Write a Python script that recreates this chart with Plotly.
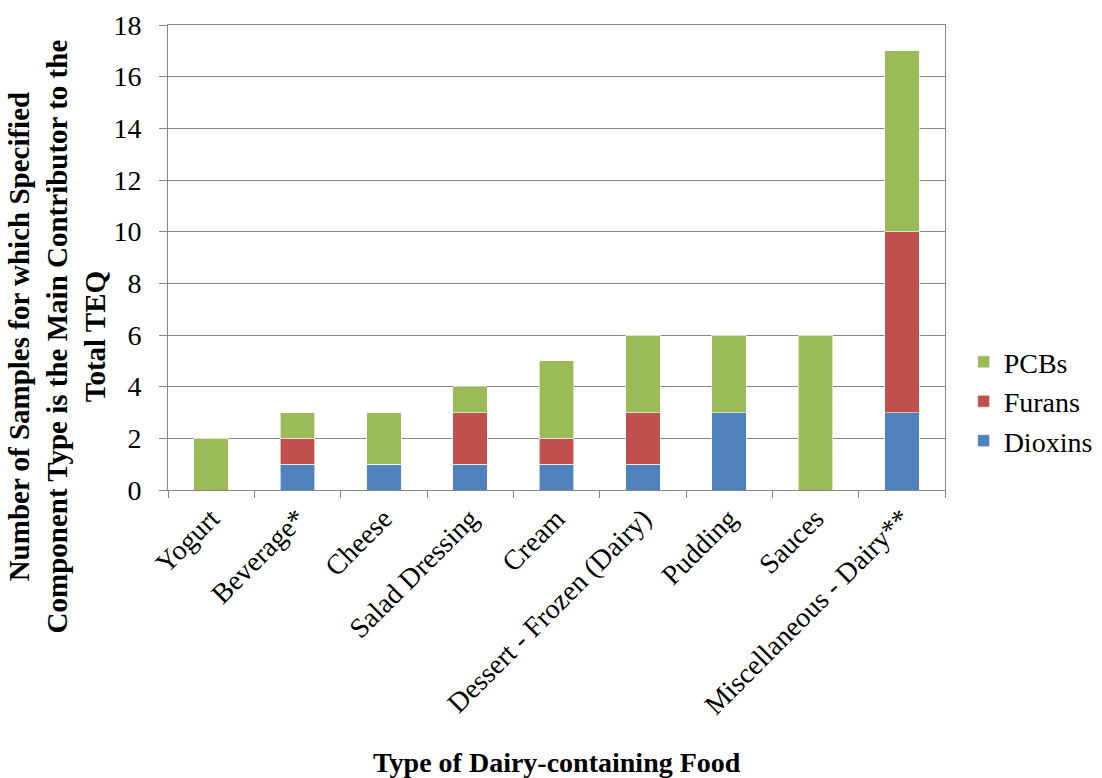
import plotly.graph_objects as go

categories = ["Yogurt", "Beverage*", "Cheese", "Salad Dressing", "Cream",
              "Dessert - Frozen (Dairy)", "Pudding", "Sauces", "Miscellaneous - Dairy**"]
dioxins = [0, 1, 1, 1, 1, 1, 3, 0, 3]
furans = [0, 1, 0, 2, 1, 2, 0, 0, 7]
pcbs = [2, 1, 2, 1, 3, 3, 3, 6, 7]

FONT = "Liberation Serif, Times New Roman, serif"

fig = go.Figure()
for name, vals, color in [("Dioxins", dioxins, "#4F81BD"),
                          ("Furans", furans, "#C0504D"),
                          ("PCBs", pcbs, "#9BBB59")]:
    fig.add_trace(go.Bar(x=categories, y=vals, name=name, legendgroup=name,
                         marker=dict(color=color, line=dict(color="white", width=0.6))))

fig.update_layout(
    barmode="stack",
    bargap=0.6,
    width=1102, height=778,
    margin=dict(l=168, r=157, t=25, b=288, autoexpand=False),
    paper_bgcolor="white", plot_bgcolor="white",
    font=dict(family=FONT, size=28, color="black"),
    legend=dict(x=1.024, y=0.19, xanchor="left", yanchor="middle",
                traceorder="reversed", tracegroupgap=13,
                font=dict(size=28), itemwidth=30),
    xaxis=dict(tickangle=-45, tickson="boundaries", ticks="outside", ticklen=7,
               tickcolor="#868686", showline=True, linecolor="#868686",
               mirror=True, showgrid=False, tickfont=dict(size=28)),
    yaxis=dict(range=[0, 18], dtick=2, ticks="outside", ticklen=8,
               tickcolor="#868686", showline=True, linecolor="#868686",
               mirror=True, showgrid=True, gridcolor="#868686", gridwidth=1,
               tickfont=dict(size=28), ticklabelstandoff=12, zeroline=False),
    annotations=[
        dict(text="<b>Number of Samples for which Specified<br>Component Type is the Main Contributor to the<br>Total TEQ</b>",
             xref="paper", yref="paper", x=-0.143, y=0.33, textangle=-90,
             xanchor="center", yanchor="middle",
             showarrow=False, font=dict(size=29), align="center"),
        dict(text="<b>Type of Dairy-containing Food</b>",
             xref="paper", yref="paper", x=0.5, y=-0.587,
             xanchor="center", yanchor="middle", showarrow=False,
             font=dict(size=28)),
    ],
)

fig.write_html("out.html")
